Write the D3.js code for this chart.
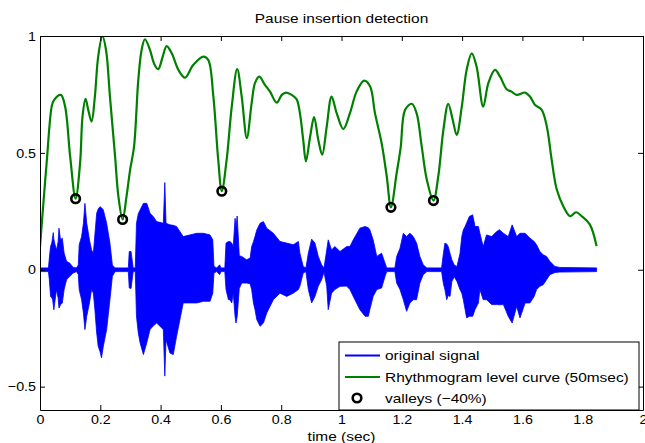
<!DOCTYPE html>
<html><head><meta charset="utf-8">
<script src="https://cdn.jsdelivr.net/npm/d3@7"></script>
<style>
body{margin:0;background:#fff}
svg{display:block}
text{font-family:"Liberation Sans",Arial,Helvetica,sans-serif;fill:#000}
</style>
</head><body>
<svg id="c" width="645" height="443"></svg>
<script>
// ---- data ----
const envTime  = [0.000,0.028,0.031,0.035,0.039,0.042,0.044,0.046,0.050,0.055,0.060,0.063,0.068,0.074,0.080,0.088,0.099,0.110,0.121,0.127,0.130,0.138,0.144,0.149,0.155,0.164,0.171,0.177,0.182,0.188,0.193,0.199,0.204,0.210,0.221,0.232,0.240,0.249,0.293,0.296,0.302,0.309,0.316,0.320,0.326,0.332,0.343,0.354,0.365,0.376,0.387,0.409,0.414,0.418,0.431,0.442,0.453,0.475,0.497,0.520,0.542,0.564,0.573,0.577,0.586,0.596,0.600,0.613,0.617,0.625,0.630,0.636,0.641,0.647,0.650,0.654,0.661,0.669,0.685,0.697,0.702,0.708,0.713,0.719,0.730,0.741,0.752,0.774,0.796,0.818,0.840,0.857,0.862,0.873,0.882,0.890,0.901,0.912,0.923,0.934,0.942,0.951,0.956,0.967,0.978,0.995,1.017,1.028,1.039,1.061,1.078,1.089,1.094,1.105,1.117,1.133,1.144,1.150,1.177,1.183,1.194,1.205,1.216,1.227,1.238,1.249,1.260,1.271,1.283,1.332,1.338,1.343,1.349,1.354,1.360,1.366,1.374,1.383,1.393,1.399,1.404,1.410,1.415,1.424,1.435,1.443,1.454,1.459,1.470,1.481,1.498,1.515,1.524,1.537,1.553,1.566,1.581,1.592,1.609,1.625,1.639,1.647,1.658,1.669,1.680,1.691,1.708,1.724,1.846];
const envUpper = [0.008,0.008,0.050,0.100,0.114,0.140,0.159,0.130,0.107,0.085,0.120,0.178,0.128,0.135,0.071,0.036,0.028,0.010,0.008,0.020,0.107,0.142,0.199,0.284,0.199,0.128,0.085,0.071,0.150,0.242,0.260,0.270,0.265,0.256,0.199,0.114,0.020,0.008,0.008,0.078,0.078,0.008,0.008,0.199,0.240,0.256,0.284,0.284,0.242,0.227,0.206,0.199,0.373,0.199,0.192,0.190,0.185,0.142,0.149,0.156,0.156,0.149,0.128,0.014,0.008,0.021,0.008,0.008,0.114,0.121,0.121,0.114,0.100,0.220,0.180,0.230,0.060,0.057,0.043,0.050,0.099,0.120,0.142,0.170,0.199,0.206,0.178,0.156,0.121,0.114,0.107,0.121,0.071,0.014,0.008,0.071,0.131,0.114,0.057,0.021,0.008,0.085,0.128,0.085,0.099,0.078,0.099,0.100,0.128,0.178,0.185,0.180,0.171,0.128,0.057,0.071,0.030,0.008,0.008,0.057,0.092,0.156,0.142,0.156,0.142,0.114,0.057,0.021,0.008,0.008,0.070,0.114,0.110,0.099,0.070,0.043,0.020,0.014,0.070,0.142,0.170,0.185,0.200,0.228,0.235,0.185,0.185,0.156,0.099,0.149,0.142,0.164,0.171,0.156,0.142,0.192,0.142,0.156,0.156,0.135,0.121,0.107,0.078,0.064,0.057,0.036,0.014,0.010,0.008];
const envLower = [-0.008,-0.008,-0.043,-0.114,-0.120,-0.128,-0.150,-0.171,-0.130,-0.085,-0.120,-0.164,-0.150,-0.142,-0.085,-0.043,-0.028,-0.014,-0.008,-0.020,-0.085,-0.128,-0.185,-0.256,-0.199,-0.142,-0.085,-0.100,-0.170,-0.270,-0.327,-0.350,-0.377,-0.327,-0.256,-0.128,-0.028,-0.008,-0.008,-0.078,-0.080,-0.008,-0.008,-0.199,-0.270,-0.313,-0.363,-0.313,-0.256,-0.240,-0.228,-0.256,-0.455,-0.300,-0.356,-0.363,-0.285,-0.142,-0.142,-0.142,-0.135,-0.135,-0.100,-0.014,-0.008,-0.021,-0.008,-0.008,-0.085,-0.128,-0.128,-0.142,-0.100,-0.200,-0.228,-0.200,-0.080,-0.057,-0.057,-0.060,-0.085,-0.142,-0.170,-0.213,-0.242,-0.228,-0.185,-0.128,-0.100,-0.114,-0.100,-0.085,-0.070,-0.014,-0.008,-0.085,-0.142,-0.114,-0.070,-0.043,-0.010,-0.070,-0.171,-0.100,-0.085,-0.071,-0.070,-0.085,-0.114,-0.171,-0.199,-0.199,-0.170,-0.114,-0.085,-0.078,-0.030,-0.008,-0.008,-0.057,-0.085,-0.128,-0.178,-0.142,-0.128,-0.128,-0.057,-0.021,-0.008,-0.008,-0.060,-0.085,-0.128,-0.110,-0.114,-0.050,-0.030,-0.050,-0.085,-0.100,-0.128,-0.170,-0.206,-0.199,-0.199,-0.170,-0.142,-0.085,-0.128,-0.128,-0.149,-0.149,-0.150,-0.149,-0.199,-0.228,-0.157,-0.206,-0.142,-0.142,-0.114,-0.085,-0.071,-0.064,-0.043,-0.021,-0.012,-0.010,-0.008];

const levelTime  = [0.000,0.022,0.039,0.046,0.069,0.083,0.100,0.118,0.133,0.141,0.151,0.160,0.171,0.182,0.193,0.207,0.219,0.232,0.249,0.260,0.274,0.287,0.299,0.312,0.326,0.337,0.348,0.365,0.378,0.392,0.407,0.420,0.437,0.459,0.481,0.508,0.542,0.558,0.575,0.591,0.603,0.619,0.636,0.654,0.669,0.686,0.702,0.713,0.727,0.746,0.763,0.785,0.802,0.816,0.835,0.851,0.862,0.873,0.882,0.896,0.909,0.923,0.936,0.951,0.967,0.984,1.006,1.028,1.050,1.075,1.095,1.111,1.133,1.150,1.164,1.183,1.196,1.211,1.233,1.249,1.266,1.283,1.305,1.321,1.338,1.354,1.369,1.382,1.399,1.415,1.432,1.448,1.470,1.487,1.509,1.526,1.548,1.564,1.581,1.609,1.625,1.642,1.664,1.681,1.697,1.714,1.736,1.758,1.778,1.797,1.824,1.846];
const levelValue = [0.100,0.457,0.700,0.725,0.748,0.700,0.485,0.304,0.457,0.655,0.731,0.684,0.634,0.741,0.912,1.000,0.940,0.741,0.485,0.314,0.215,0.314,0.428,0.528,0.812,0.940,0.986,0.940,0.883,0.858,0.912,0.957,0.926,0.855,0.822,0.876,0.912,0.898,0.741,0.472,0.336,0.470,0.698,0.858,0.741,0.563,0.713,0.798,0.826,0.791,0.762,0.715,0.748,0.758,0.748,0.730,0.670,0.556,0.464,0.570,0.653,0.556,0.492,0.613,0.741,0.670,0.602,0.670,0.762,0.809,0.784,0.670,0.542,0.400,0.267,0.414,0.520,0.684,0.710,0.670,0.528,0.385,0.296,0.400,0.599,0.710,0.641,0.577,0.698,0.855,0.926,0.869,0.698,0.798,0.855,0.826,0.772,0.762,0.748,0.758,0.741,0.705,0.684,0.613,0.471,0.343,0.271,0.229,0.246,0.229,0.193,0.101];

const valleyTime  = [0.118,0.274,0.603,1.164,1.305];
const valleyValue = [0.304,0.215,0.336,0.267,0.296];

const xTicks = [0,0.2,0.4,0.6,0.8,1,1.2,1.4,1.6,1.8,2];
const xTickLabels = ["0","0.2","0.4","0.6","0.8","1","1.2","1.4","1.6","1.8","2"];
const yTicks = [-0.5,0,0.5,1];
const yTickLabels = ["\u22120.5","0","0.5","1"];

const titleText = "Pause insertion detection";
const xLabelText = "time (sec)";
const legendLabels = ["original signal","Rhythmogram level curve (50msec)","valleys (\u221240%)"];
const colors = {signal:"#0000ff", level:"#008000", valley:"#000000"};

// ---- layout ----
const L = 40, R = 643, T = 36, B = 410;
const SX = 1.19;   // horizontal text stretch seen in the reference
const SXT = 1.1;   // stretch for tick labels
const FS = 13;

const svg = d3.select("#c");
const x = d3.scaleLinear().domain([0,2]).range([L,R]);
const y = d3.scaleLinear().domain([-0.6,1]).range([B,T]);

svg.append("clipPath").attr("id","pc").append("rect")
  .attr("x",L).attr("y",T).attr("width",R-L).attr("height",B-T);
const plot = svg.append("g").attr("clip-path","url(#pc)");

// signal envelope
const envData = envTime.map((t,i)=>({t, hi:envUpper[i], lo:envLower[i]}));
plot.append("path").datum(envData)
  .attr("d", d3.area().x(d=>x(d.t)).y0(d=>y(d.lo)).y1(d=>y(d.hi)).curve(d3.curveLinear))
  .attr("fill", colors.signal).attr("stroke", colors.signal).attr("stroke-width",0.8);

// level curve
const lvl = levelTime.map((t,i)=>({t, v:levelValue[i]}));
plot.append("path").datum(lvl)
  .attr("d", d3.line().x(d=>x(d.t)).y(d=>y(d.v)).curve(d3.curveCatmullRom.alpha(0.5)))
  .attr("fill","none").attr("stroke",colors.level).attr("stroke-width",2.2)
  .attr("stroke-linejoin","round");

// valleys
plot.selectAll("circle.v").data(valleyTime.map((t,i)=>({t,v:valleyValue[i]})))
  .enter().append("circle").attr("class","v")
  .attr("cx",d=>x(d.t)).attr("cy",d=>y(d.v)).attr("r",4.3)
  .attr("fill","none").attr("stroke",colors.valley).attr("stroke-width",2.6);

// axes
function styleAxis(g){
  g.selectAll(".domain").attr("stroke","#000").attr("stroke-width",1);
  g.selectAll(".tick line").attr("stroke","#000").attr("stroke-width",1);
  g.selectAll("text").attr("font-size",FS).attr("font-family",null).attr("fill","#000");
}
const gx = svg.append("g").attr("transform",`translate(0,${B})`)
  .call(d3.axisBottom(x).tickValues(xTicks).tickFormat((d,i)=>xTickLabels[i]).tickSizeInner(-5).tickSizeOuter(0).tickPadding(5));
styleAxis(gx);
gx.selectAll("text").attr("transform",`scale(${SXT},1)`);
const gxt = svg.append("g").attr("transform",`translate(0,${T})`)
  .call(d3.axisTop(x).tickValues(xTicks).tickFormat("").tickSizeInner(-5).tickSizeOuter(0));
styleAxis(gxt);
const gy = svg.append("g").attr("transform",`translate(${L},0)`)
  .call(d3.axisLeft(y).tickValues(yTicks).tickFormat((d,i)=>yTickLabels[i]).tickSizeInner(-5).tickSizeOuter(0).tickPadding(4));
styleAxis(gy);
gy.selectAll("text").attr("transform",`scale(${SXT},1)`).attr("x",-4/SXT);
const gyr = svg.append("g").attr("transform",`translate(${R},0)`)
  .call(d3.axisRight(y).tickValues(yTicks).tickFormat("").tickSizeInner(-5).tickSizeOuter(0));
styleAxis(gyr);

function txt(x0,y0,s,anchor,size){
  return svg.append("text").attr("transform",`translate(${x0},${y0}) scale(${SX},1)`)
    .attr("text-anchor",anchor||"start").attr("font-size",size||FS).text(s);
}
txt((L+R)/2, 23, titleText, "middle");
txt((L+R)/2, 441, xLabelText, "middle");

// legend
const lg = {x0:339, y0:342, x1:639, y1:B};
svg.append("rect").attr("x",lg.x0).attr("y",lg.y0).attr("width",lg.x1-lg.x0).attr("height",lg.y1-lg.y0)
  .attr("fill","#fff").attr("stroke","#000").attr("stroke-width",1);
const rowY = [355.5, 377, 398];
svg.append("line").attr("x1",345).attr("x2",380).attr("y1",rowY[0]).attr("y2",rowY[0]).attr("stroke",colors.signal).attr("stroke-width",2);
svg.append("line").attr("x1",345).attr("x2",380).attr("y1",rowY[1]).attr("y2",rowY[1]).attr("stroke",colors.level).attr("stroke-width",2);
svg.append("circle").attr("cx",357).attr("cy",rowY[2]).attr("r",4.3).attr("fill","none").attr("stroke",colors.valley).attr("stroke-width",2.6);
legendLabels.forEach((s,i)=>txt(385,rowY[i]+4.6,s,"start"));
</script>
</body></html>
